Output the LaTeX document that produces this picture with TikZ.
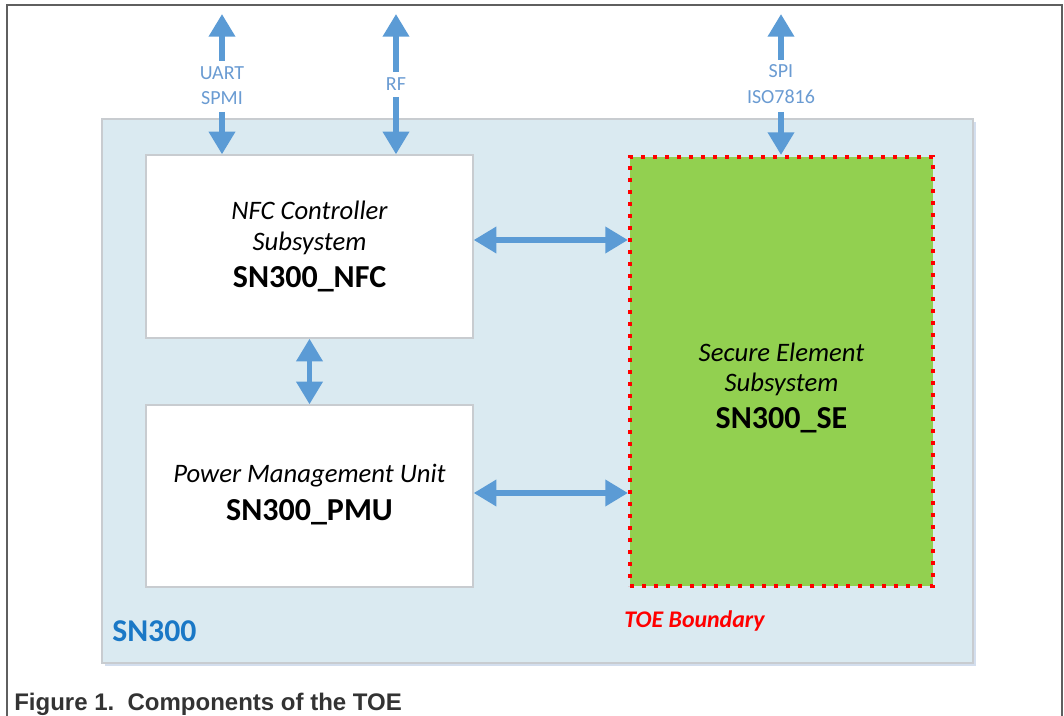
\documentclass[tikz,border=0pt]{standalone}
\usepackage{fontspec}
\setmainfont{Carlito}
\newfontfamily\capfont{Liberation Sans}
\usetikzlibrary{arrows.meta}
\definecolor{sysbg}{HTML}{DAEAF1}
\definecolor{sysline}{HTML}{C8CCD0}
\definecolor{sysshadow}{HTML}{D3DEEE}
\definecolor{arrblue}{HTML}{5B9BD5}
\definecolor{lblblue}{HTML}{6A9BD2}
\definecolor{segreen}{HTML}{92D050}
\definecolor{sntext}{HTML}{1A78C6}
\definecolor{frameg}{HTML}{5F5F5F}
\definecolor{captext}{HTML}{333333}
\definecolor{toered}{HTML}{FF0000}
\tikzset{
  sysbox/.style={draw=sysline, fill=sysbg, line width=1.2pt, inner sep=0pt},
  whitebox/.style={draw=sysline, fill=white, line width=1pt, inner sep=0pt},
  sebox/.style={draw=toered, fill=segreen, line width=3pt, dash pattern=on 3pt off 6pt, inner sep=0pt},
  arr/.style={draw=arrblue, line width=4.2pt, -{Triangle[width=19pt,length=17pt]}},
  biarr/.style={draw=arrblue, line width=4.2pt, {Triangle[width=19pt,length=17pt]}-{Triangle[width=19pt,length=17pt]}},
  lbl/.style={text=lblblue, font=\fontsize{15}{18}\selectfont, anchor=base, inner sep=0pt},
  itline/.style={text=black, font=\fontsize{20}{24}\selectfont\itshape, anchor=base, inner sep=0pt},
  bdline/.style={text=black, font=\fontsize{24}{29}\selectfont\bfseries, anchor=base, inner sep=0pt},
}
\begin{document}
\begin{tikzpicture}[x=0.75pt,y=-0.75pt]
\useasboundingbox (0,0) rectangle (1064,716);
% frame
\draw[frameg, line width=1.1pt] (7,716) -- (7,5) -- (1062,5) -- (1062,716);
% SN300 system box
\fill[sysshadow] (105,122) rectangle (976,666);
\node[sysbox, minimum width=653.25pt, minimum height=408pt] (sys) at (537.5,391) {};
\node[text=sntext, font=\fontsize{23.8}{28}\selectfont\bfseries, anchor=base west, inner sep=0pt] (sn300) at (112,641) {SN300};
% blocks
\node[whitebox, minimum width=245.25pt, minimum height=137.25pt] (nfc) at (309.5,246.5) {};
\node[itline] (nfc1) at (309.5,220) {NFC Controller};
\node[itline] (nfc2) at (309.5,251) {Subsystem};
\node[bdline] (nfc3) at (309.5,288) {SN300\_NFC};
\node[whitebox, minimum width=245.25pt, minimum height=136.5pt] (pmu) at (309.5,496) {};
\node[itline] (pmu1) at (309.5,483) {Power Management Unit};
\node[bdline] (pmu2) at (309.5,520) {SN300\_PMU};
\node[sebox, minimum width=227.25pt, minimum height=321.75pt] (se) at (781.5,371.5) {};
\node[itline] (se1) at (781.5,362) {Secure Element};
\node[itline] (se2) at (781.5,392) {Subsystem};
\node[bdline] (se3) at (781.5,429) {SN300\_SE};
\node[text=toered, font=\fontsize{17.9}{21}\selectfont\bfseries\itshape, anchor=base west, inner sep=0pt] (toe) at (624,627) {TOE Boundary};
% external interface labels
\node[lbl] (uart) at (222,80) {UART};
\node[lbl] (spmi) at (222,105) {SPMI};
\node[lbl] (rf) at (396,91) {RF};
\node[lbl] (spi) at (781,78) {SPI};
\node[lbl] (iso) at (781,104) {ISO7816};
\coordinate (uarttop) at (222,14);
\coordinate (uartup) at (222,61);
\coordinate (uartdn) at (222,112);
\coordinate (rftop) at (396,14);
\coordinate (rfup) at (396,72);
\coordinate (rfdn) at (396,97);
\coordinate (spitop) at (781,14);
\coordinate (spiup) at (781,60);
\coordinate (spidn) at (781,112);
\draw[arr] (uartup) -- (uarttop);
\draw[arr] (uartdn) -- (uartdn |- nfc.north);
\draw[arr] (rfup) -- (rftop);
\draw[arr] (rfdn) -- (rfdn |- nfc.north);
\draw[arr] (spiup) -- (spitop);
\draw[arr] (spidn) -- (spidn |- se.north);
% internal connectors
\coordinate (row1) at (550,240);
\coordinate (row2) at (550,493);
\draw[biarr] (row1 -| nfc.east) -- (row1 -| se.west);
\draw[biarr] (row2 -| pmu.east) -- (row2 -| se.west);
\draw[biarr] (nfc.south) -- (pmu.north);
% caption
\node[text=captext, font=\capfont\fontsize{18}{21}\selectfont\bfseries, anchor=base west, inner sep=0pt] (cap) at (14,710) {Figure 1.\ \ Components of the TOE};
\end{tikzpicture}
\end{document}
